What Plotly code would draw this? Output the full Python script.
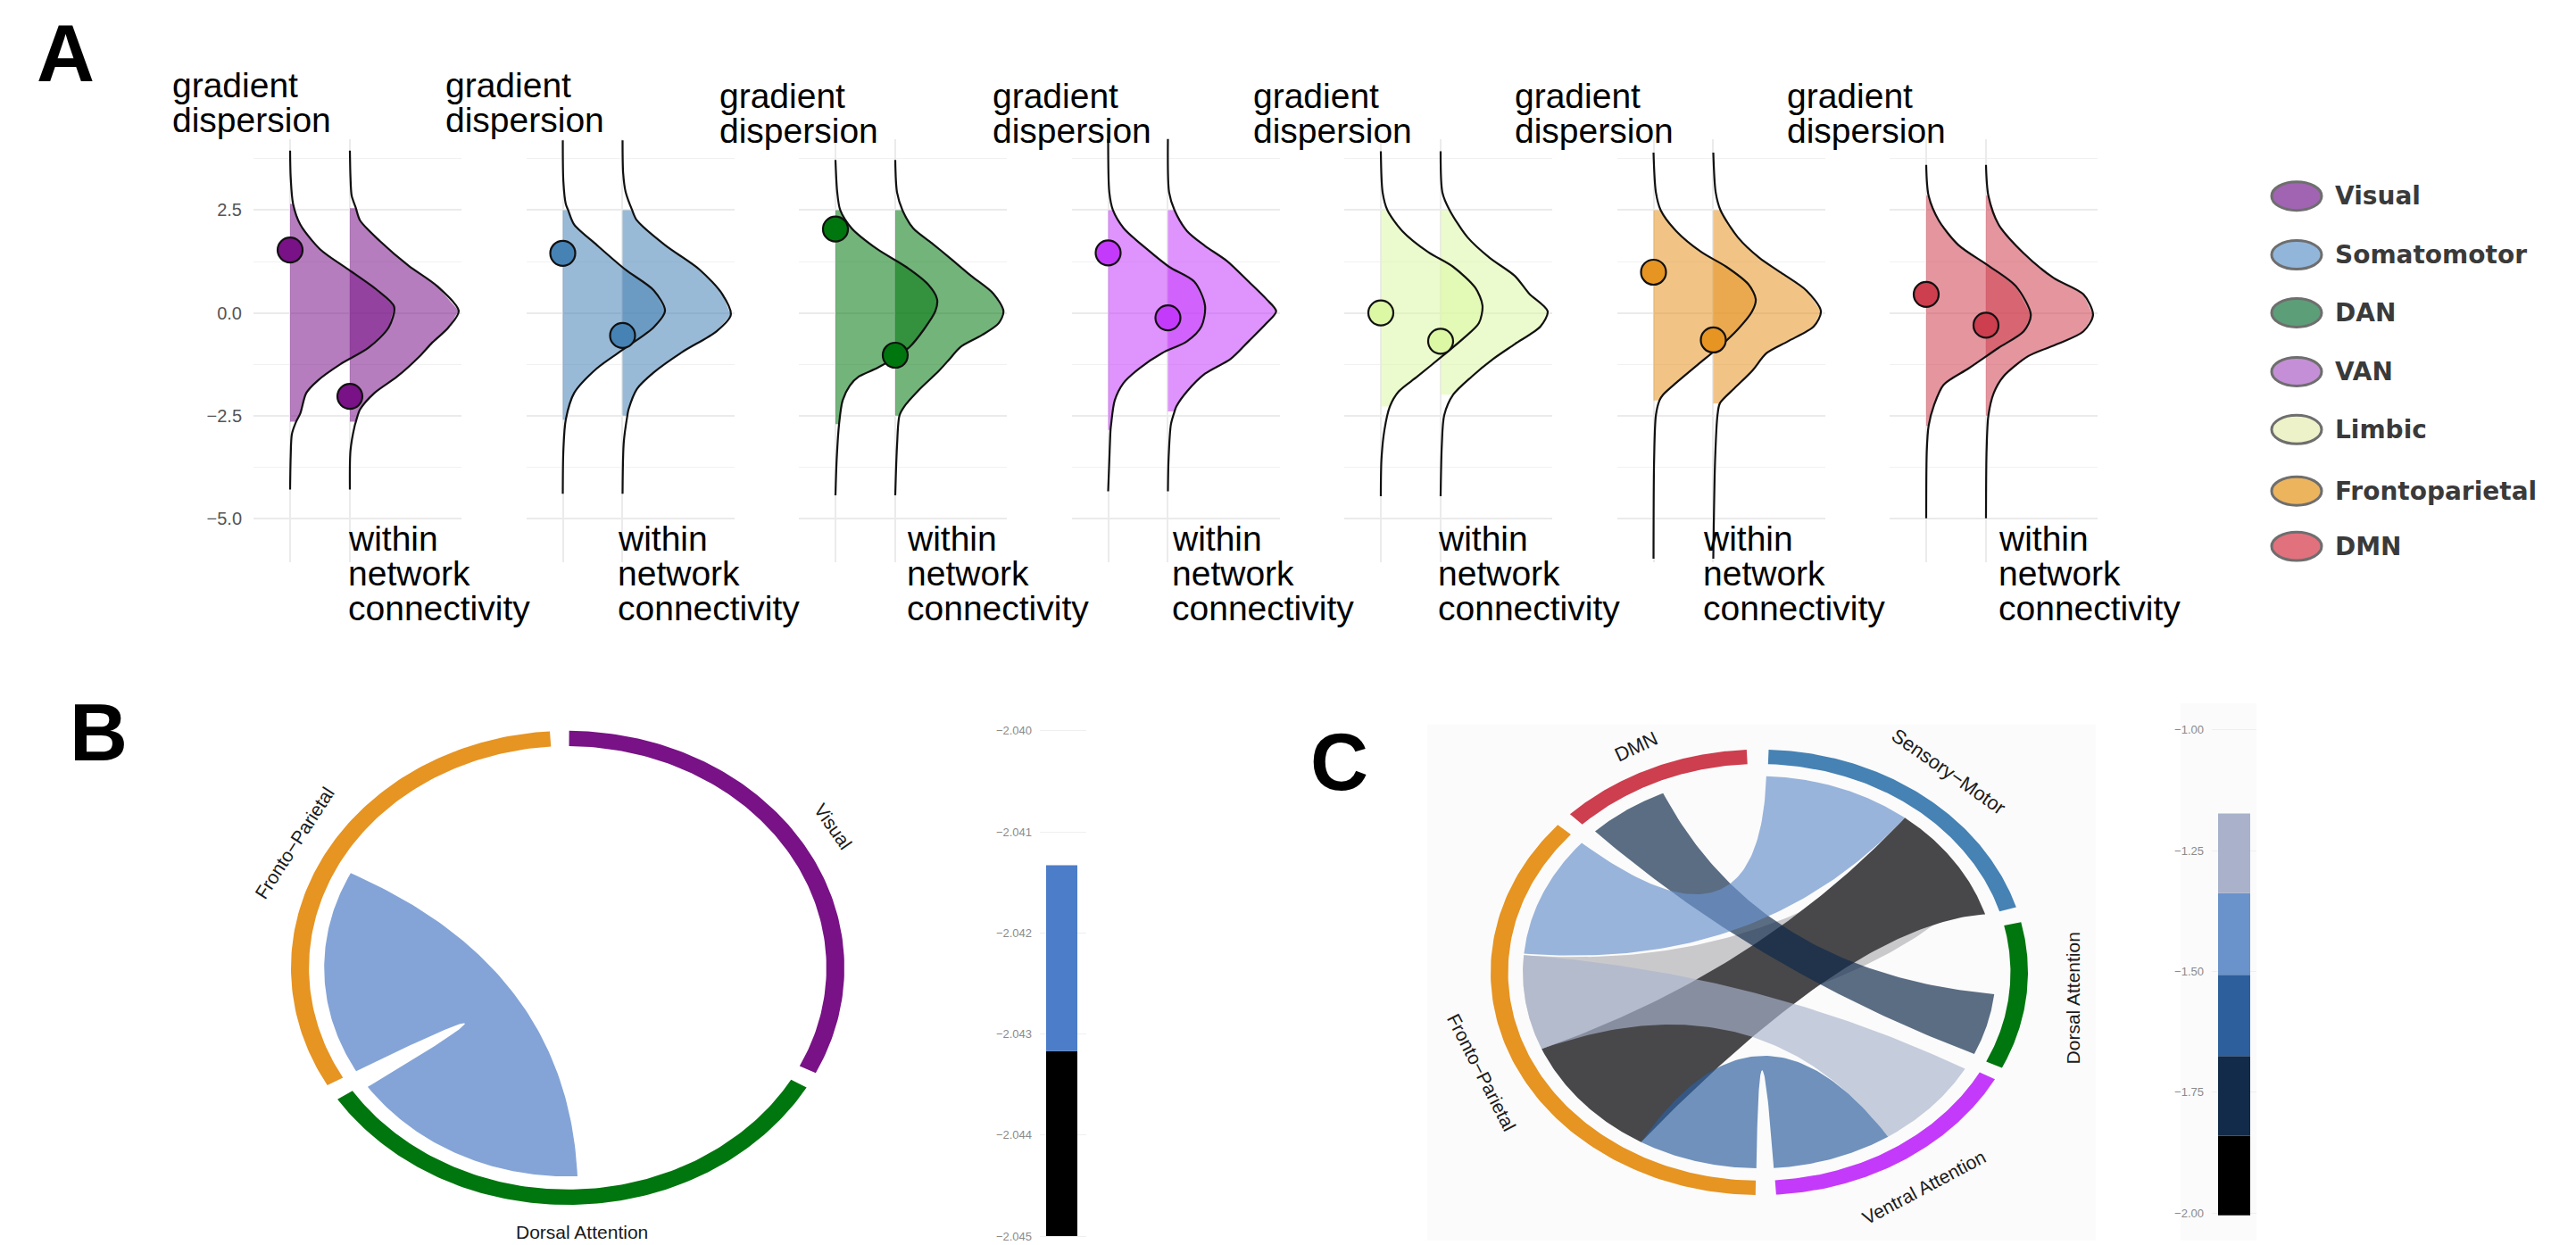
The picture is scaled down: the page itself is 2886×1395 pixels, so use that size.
import numpy as np
import plotly.graph_objects as go

W, H = 2886, 1395

# ---------------- Panel A: half-violin densities per network ----------------
networks = ["Visual", "Somatomotor", "DAN", "VAN", "Limbic", "Frontoparietal", "DMN"]
network_colors = ["#781286", "#4682B4", "#00760E", "#C43AFA", "#DCF8A4", "#E69422", "#CD3E4E"]
legend_fills = ["#A064B2", "#92B6DA", "#5C9E78", "#C48FD6", "#EEF2C8", "#EDB45E", "#E2717E"]

# gradient dispersion: density heights (y) and half-widths (w)
visual_gd_y = [3.95, 3.3, 2.65, 2.15, 1.55, 1.05, 0.55, 0.15, -0.35, -0.85, -1.25, -1.65, -1.95, -2.45, -2.65, -2.95, -3.5, -4.3]
visual_gd_w = [0, 0.01, 0.05, 0.17, 0.5, 0.98, 1.46, 1.74, 1.65, 1.31, 0.84, 0.46, 0.27, 0.17, 0.1, 0.03, 0.01, 0]
smn_gd_y = [4.2, 3.2, 2.65, 2.5, 2.15, 1.65, 1.05, 0.55, 0.05, -0.35, -0.85, -1.35, -1.95, -2.6, -3.35, -4.4]
smn_gd_w = [0, 0.01, 0.05, 0.09, 0.19, 0.57, 1.05, 1.52, 1.71, 1.52, 1.05, 0.57, 0.19, 0.05, 0.01, 0]
dan_gd_y = [3.72, 2.93, 2.5, 2.06, 1.55, 1.12, 0.69, 0.33, 0.04, -0.40, -0.83, -1.08, -1.34, -1.55, -1.77, -2.13, -2.71, -3.58, -4.44]
dan_gd_w = [0, 0.03, 0.08, 0.27, 0.70, 1.18, 1.55, 1.70, 1.67, 1.48, 1.24, 1.0, 0.70, 0.39, 0.24, 0.12, 0.06, 0.02, 0]
van_gd_y = [4.26, 2.93, 2.5, 2.06, 1.55, 1.12, 0.76, 0.18, -0.33, -0.69, -0.98, -1.34, -1.70, -2.13, -2.71, -2.85, -3.58, -4.34]
van_gd_w = [0, 0.02, 0.08, 0.26, 0.65, 1.02, 1.44, 1.62, 1.56, 1.32, 0.90, 0.53, 0.26, 0.11, 0.05, 0.04, 0.02, 0]
lim_gd_y = [3.93, 2.93, 2.5, 1.99, 1.48, 1.12, 0.61, 0.18, -0.25, -0.61, -1.05, -1.55, -1.91, -2.28, -2.85, -3.58, -4.46]
lim_gd_w = [0, 0.03, 0.11, 0.36, 0.79, 1.21, 1.58, 1.70, 1.64, 1.39, 1.03, 0.61, 0.30, 0.15, 0.06, 0.01, 0]
fpn_gd_y = [3.9, 2.93, 2.5, 1.99, 1.48, 1.12, 0.69, 0.33, 0.04, -0.40, -0.83, -1.26, -1.70, -1.99, -2.13, -2.49, -3.58, -5.98]
fpn_gd_w = [0, 0.04, 0.12, 0.38, 0.80, 1.22, 1.59, 1.71, 1.65, 1.41, 1.10, 0.74, 0.38, 0.16, 0.1, 0.04, 0.01, 0]
dmn_gd_y = [3.6, 2.85, 2.25, 1.65, 1.15, 0.65, -0.05, -0.45, -0.85, -1.35, -1.75, -2.25, -2.75, -3.35, -5.0]
dmn_gd_w = [0, 0.04, 0.21, 0.54, 1.04, 1.5, 1.75, 1.63, 1.21, 0.71, 0.29, 0.13, 0.04, 0.01, 0]

# within network connectivity
visual_wn_y = [3.95, 3.3, 2.85, 2.55, 2.25, 1.75, 1.15, 0.65, 0.05, -0.35, -0.75, -1.05, -1.55, -1.95, -2.35, -2.65, -2.75, -3.35, -4.3]
visual_wn_w = [0, 0.01, 0.03, 0.1, 0.17, 0.5, 0.98, 1.46, 1.82, 1.65, 1.36, 1.17, 0.79, 0.41, 0.17, 0.1, 0.08, 0.01, 0]
smn_wn_y = [4.2, 3.4, 2.95, 2.5, 2.25, 1.65, 1.05, 0.45, -0.05, -0.45, -0.95, -1.45, -1.85, -2.35, -2.5, -3.15, -4.4]
smn_wn_w = [0, 0.01, 0.05, 0.16, 0.24, 0.71, 1.29, 1.67, 1.81, 1.57, 1.0, 0.52, 0.24, 0.1, 0.08, 0.02, 0]
dan_wn_y = [3.72, 2.93, 2.5, 2.06, 1.70, 1.34, 0.90, 0.47, 0.04, -0.25, -0.54, -0.83, -1.12, -1.41, -1.84, -2.28, -2.5, -3.22, -4.44]
dan_wn_w = [0, 0.03, 0.12, 0.30, 0.61, 0.91, 1.27, 1.64, 1.81, 1.73, 1.45, 1.09, 0.91, 0.73, 0.42, 0.15, 0.07, 0.03, 0]
van_wn_y = [4.26, 2.93, 2.5, 1.99, 1.63, 1.26, 0.76, 0.33, 0.04, -0.25, -0.69, -1.12, -1.48, -1.91, -2.28, -2.4, -2.71, -3.58, -4.34]
van_wn_w = [0, 0.02, 0.11, 0.32, 0.62, 0.99, 1.35, 1.65, 1.81, 1.65, 1.35, 1.05, 0.62, 0.32, 0.14, 0.11, 0.05, 0.01, 0]
lim_wn_y = [3.93, 2.93, 2.5, 1.84, 1.34, 0.90, 0.47, 0.04, -0.33, -0.76, -1.12, -1.55, -1.99, -2.49, -3.22, -4.46]
lim_wn_w = [0, 0.03, 0.15, 0.45, 0.82, 1.24, 1.48, 1.79, 1.67, 1.24, 0.88, 0.52, 0.21, 0.06, 0.02, 0]
fpn_wn_y = [3.9, 2.93, 2.5, 1.84, 1.34, 0.98, 0.54, 0.04, -0.33, -0.69, -0.98, -1.41, -1.84, -2.2, -2.49, -3.58, -5.98]
fpn_wn_w = [0, 0.04, 0.12, 0.41, 0.77, 1.13, 1.56, 1.80, 1.68, 1.25, 0.89, 0.65, 0.35, 0.11, 0.07, 0.03, 0]
dmn_wn_y = [3.6, 2.85, 2.15, 1.45, 0.85, 0.45, -0.05, -0.45, -0.75, -1.05, -1.55, -1.95, -2.5, -3.35, -5.0]
dmn_wn_w = [0, 0.04, 0.21, 0.63, 1.13, 1.63, 1.79, 1.63, 1.21, 0.71, 0.29, 0.13, 0.04, 0.01, 0]

gd_profiles = [(visual_gd_y, visual_gd_w), (smn_gd_y, smn_gd_w), (dan_gd_y, dan_gd_w), (van_gd_y, van_gd_w),
               (lim_gd_y, lim_gd_w), (fpn_gd_y, fpn_gd_w), (dmn_gd_y, dmn_gd_w)]
wn_profiles = [(visual_wn_y, visual_wn_w), (smn_wn_y, smn_wn_w), (dan_wn_y, dan_wn_w), (van_wn_y, van_wn_w),
               (lim_wn_y, lim_wn_w), (fpn_wn_y, fpn_wn_w), (dmn_wn_y, dmn_wn_w)]

# shaded range (upper, lower) of each half violin
gd_fill = [(2.65, -2.65), (2.5, -2.6), (2.5, -2.71), (2.5, -2.85), (2.5, -2.28), (2.5, -2.13), (2.85, -2.75)]
wn_fill = [(2.55, -2.65), (2.5, -2.5), (2.5, -2.5), (2.5, -2.4), (2.5, -1.99), (2.5, -2.2), (2.85, -2.5)]

# individual subject value shown as a dot
point_gd = [1.53, 1.45, 2.04, 1.46, 0.0, 0.99, 0.45]
point_wn = [-2.03, -0.55, -1.03, -0.12, -0.69, -0.66, -0.30]

y_ticks = [-5.0, -2.5, 0.0, 2.5]
y_ticktext = ["\u22125.0", "\u22122.5", "0.0", "2.5"]

# ---------------- Panel B: chord diagram ----------------
b_sectors = ["Visual", "Dorsal Attention", "Fronto\u2212Parietal"]
b_sector_colors = ["#781286", "#00760E", "#E69422"]
b_sector_start = [89.7, -30.3, -150.3]
b_sector_end = [-26.3, -146.3, -266.3]
# link: (arc on first sector from, to), (arc on second sector from, to)
b_links = [((272.3, 214.8), (209.7, 153.0))]
b_link_colors = ["rgba(132,164,215,1.0)"]
b_scale_edges = [-2.045, -2.04317, -2.04133]
b_scale_colors = ["#000000", "#4C7DC8"]
b_scale_ticks = [-2.045, -2.044, -2.043, -2.042, -2.041, -2.040]

# ---------------- Panel C: chord diagram ----------------
c_sectors = ["Sensory\u2212Motor", "Dorsal Attention", "Ventral Attention", "Fronto\u2212Parietal", "DMN"]
c_sector_colors = ["#4682B4", "#00760E", "#C43AFA", "#E69422", "#CD3E4E"]
c_sector_start = [88.0, 13.0, -28.7, -90.8, -225.2]
c_sector_end = [17.0, -25.4, -86.4, -221.4, -267.3]
c_links = [
    ((45.0, 25.0), (203.0, 175.0)),     # Sensory-Motor - Fronto-Parietal
    ((52.0, 17.2), (240.0, 203.0)),     # Sensory-Motor - Fronto-Parietal
    ((203.0, 175.0), (-29.5, -57.0)),   # Fronto-Parietal - Ventral Attention
    ((269.3, 240.0), (303.0, 273.5)),   # Fronto-Parietal - Ventral Attention
    ((134.0, 114.0), (-6.4, -24.6)),    # DMN - Dorsal Attention
    ((88.3, 52.0), (174.5, 138.7)),     # Sensory-Motor - Fronto-Parietal
]
c_link_colors = ["rgba(201,201,204,1.0)", "rgba(72,72,75,1.0)", "rgba(169,179,204,0.66)",
                 "rgba(44,95,158,0.68)", "rgba(15,42,74,0.68)", "rgba(106,146,203,0.68)"]
c_scale_edges = [-2.005, -1.84, -1.675, -1.507, -1.338, -1.173]
c_scale_colors = ["#000000", "#132B4A", "#2D5F9C", "#6A92CB", "#A9B2CA"]
c_scale_ticks = [-2.0, -1.75, -1.5, -1.25, -1.0]

FONT = "Liberation Sans"


def px2x(px):
    return px / W


def px2y(py):
    return 1 - py / H


def xdom(a, b):
    return [max(0.0, a / W), min(1.0, b / W)]


def ydom(top, bottom):
    return [max(0.0, 1 - bottom / H), min(1.0, 1 - top / H)]


fig = go.Figure()
layout = {}
annotations = []
shapes = []

# ---- Panel A facets ----
FACET_LEFT, FACET_W, FACET_STEP = 284.0, 233.0, 305.5
ALPHA = 0.55


def hex_rgba(h, a):
    h = h.lstrip("#")
    return f"rgba({int(h[0:2], 16)},{int(h[2:4], 16)},{int(h[4:6], 16)},{a})"


for i in range(7):
    n = i + 1
    xs = "x" if n == 1 else f"x{n}"
    ys = "y" if n == 1 else f"y{n}"
    x0 = FACET_LEFT + i * FACET_STEP
    layout["xaxis" if n == 1 else f"xaxis{n}"] = dict(
        domain=xdom(x0, x0 + FACET_W), range=[0.388, 3.866], tickvals=[1, 2],
        showticklabels=False, showgrid=True, gridcolor="#EBEBEB", gridwidth=1.5,
        zeroline=False, showline=False, anchor=ys, fixedrange=True)
    layout["yaxis" if n == 1 else f"yaxis{n}"] = dict(
        domain=ydom(156, 631), range=[-6.07, 4.23], tickvals=y_ticks, ticktext=y_ticktext,
        showticklabels=(i == 0), showgrid=True, gridcolor="#EBEBEB", gridwidth=1.5,
        minor=dict(tickvals=[-3.75, -1.25, 1.25, 3.75], showgrid=True, gridcolor="#F1F1F1", gridwidth=1.2),
        zeroline=False, showline=False, anchor=xs, fixedrange=True,
        tickfont=dict(family=FONT, size=20, color="#555555"), ticklabelstandoff=12)

    col = network_colors[i]
    for side, (prof, frange) in enumerate([(gd_profiles[i], gd_fill[i]), (wn_profiles[i], wn_fill[i])]):
        base = side + 1
        yv, wv = prof
        hi, lo = frange
        sel = [(y, w) for y, w in zip(yv, wv) if lo - 1e-9 <= y <= hi + 1e-9]
        fx = [base] + [base + w for _, w in sel] + [base, base]
        fy = [hi] + [y for y, _ in sel] + [lo, hi]
        fig.add_trace(go.Scatter(x=fx, y=fy, xaxis=xs, yaxis=ys, mode="lines", fill="toself",
                                 fillcolor=hex_rgba(col, ALPHA), line=dict(width=0),
                                 hoverinfo="skip", showlegend=False))
    for side, prof in enumerate([gd_profiles[i], wn_profiles[i]]):
        base = side + 1
        yv, wv = prof
        fig.add_trace(go.Scatter(x=[base + w for w in wv], y=yv, xaxis=xs, yaxis=ys, mode="lines",
                                 line=dict(color="#111111", width=2.2, shape="spline", smoothing=0.8),
                                 hoverinfo="skip", showlegend=False))
    fig.add_trace(go.Scatter(x=[1, 2], y=[point_gd[i], point_wn[i]], xaxis=xs, yaxis=ys, mode="markers",
                             marker=dict(size=28, color=col, line=dict(color="#111111", width=2.2)),
                             hoverinfo="skip", showlegend=False))

# facet text labels
gd_label_x = [191, 497, 804, 1110, 1402, 1695, 2000]
gd_label_y = [96, 96, 108, 108, 108, 108, 108]
wn_label_x = [388, 690, 1014, 1311, 1609, 1906, 2237]
for i in range(7):
    for k, word in enumerate(["gradient", "dispersion"]):
        annotations.append(dict(x=px2x(gd_label_x[i]), y=px2y(gd_label_y[i] + 39 * k), xref="paper", yref="paper",
                                text=word, showarrow=False, xanchor="left", yanchor="middle",
                                font=dict(family=FONT, size=39, color="#000000")))
    for k, word in enumerate(["within", "network", "connectivity"]):
        annotations.append(dict(x=px2x(wn_label_x[i]), y=px2y(604 + 39 * k), xref="paper", yref="paper",
                                text=word, showarrow=False, xanchor="left", yanchor="middle",
                                font=dict(family=FONT, size=39, color="#000000")))

# legend of panel A
legend_y = [220, 286, 351, 417, 482, 551, 613]
for i, name in enumerate(networks):
    cx, cy = 2573, legend_y[i]
    shapes.append(dict(type="circle", xref="paper", yref="paper",
                       x0=px2x(cx - 28), x1=px2x(cx + 28), y0=px2y(cy + 16), y1=px2y(cy - 16),
                       fillcolor=legend_fills[i], line=dict(color="#6E6E6E", width=3)))
    annotations.append(dict(x=px2x(2614), y=px2y(cy), xref="paper", yref="paper", text=name,
                            showarrow=False, xanchor="left", yanchor="middle",
                            font=dict(family="DejaVu Sans", size=28, color="#3A3A3A", weight="bold")))

# panel letters
for letter, cx, cy in [("A", 73, 60), ("B", 110, 822), ("C", 1500, 855)]:
    annotations.append(dict(x=px2x(cx), y=px2y(cy), xref="paper", yref="paper", text=f"<b>{letter}</b>",
                            showarrow=False, xanchor="center", yanchor="middle",
                            font=dict(family=FONT, size=90, color="#000000")))


# ---- chord helpers (unit circle; axes stretch it to the drawn ellipse) ----
def ring(a0, a1, r_in=0.935, r_out=1.0):
    t = np.radians(np.linspace(a0, a1, 120))
    x = np.concatenate([r_out * np.cos(t), r_in * np.cos(t[::-1])])
    y = np.concatenate([r_out * np.sin(t), r_in * np.sin(t[::-1])])
    return np.append(x, x[0]), np.append(y, y[0])


def bezier(p0, p2, c=(0.0, 0.0), n=80):
    t = np.linspace(0, 1, n)[:, None]
    pts = (1 - t) ** 2 * np.array(p0) + 2 * t * (1 - t) * np.array(c) + t ** 2 * np.array(p2)
    return pts[:, 0], pts[:, 1]


def pol(a, r):
    return (r * np.cos(np.radians(a)), r * np.sin(np.radians(a)))


def link(arc_a, arc_b, r=0.88, c1=(0.0, 0.0), c2=(0.0, 0.0)):
    (a0, a1), (b0, b1) = arc_a, arc_b
    ta = np.radians(np.linspace(a0, a1, 80))
    tb = np.radians(np.linspace(b0, b1, 80))
    x1, y1 = bezier(pol(a1, r), pol(b0, r), c1)
    x2, y2 = bezier(pol(b1, r), pol(a0, r), c2)
    x = np.concatenate([r * np.cos(ta), x1, r * np.cos(tb), x2])
    y = np.concatenate([r * np.sin(ta), y1, r * np.sin(tb), y2])
    return x, y


def add_chord(axn, starts, ends, colors, links, link_colors, controls=None):
    xs, ys = f"x{axn}", f"y{axn}"
    controls = controls or {}
    for k, (lk, lc) in enumerate(zip(links, link_colors)):
        x, y = link(*lk, **controls.get(k, {}))
        fig.add_trace(go.Scatter(x=x, y=y, xaxis=xs, yaxis=ys, mode="lines", fill="toself",
                                 fillcolor=lc, line=dict(width=0), hoverinfo="skip", showlegend=False))
    for a0, a1, c in zip(starts, ends, colors):
        x, y = ring(a0, a1)
        fig.add_trace(go.Scatter(x=x, y=y, xaxis=xs, yaxis=ys, mode="lines", fill="toself",
                                 fillcolor=c, line=dict(width=0), hoverinfo="skip", showlegend=False))


def hidden_axes(n, xd, yd, xr, yr):
    layout[f"xaxis{n}"] = dict(domain=xd, range=xr, visible=False, anchor=f"y{n}", fixedrange=True)
    layout[f"yaxis{n}"] = dict(domain=yd, range=yr, visible=False, anchor=f"x{n}", fixedrange=True)


# panel B chord (ellipse centre 636,1086; radii 310 x 266 px)
hidden_axes(9, xdom(636 - 1.2 * 310, 636 + 1.2 * 310), ydom(1086 - 1.12 * 266, 1086 + 1.12 * 266),
            [-1.2, 1.2], [-1.12, 1.12])
add_chord(9, b_sector_start, b_sector_end, b_sector_colors, b_links, b_link_colors)

# panel C background and chord (ellipse centre 1971,1091; radii 301 x 250 px)
shapes.append(dict(type="rect", xref="paper", yref="paper", x0=px2x(1599), x1=px2x(2348),
                   y0=px2y(1392), y1=px2y(813), fillcolor="#FBFBFB", line=dict(width=0), layer="below"))
shapes.append(dict(type="rect", xref="paper", yref="paper", x0=px2x(2443), x1=px2x(2528),
                   y0=px2y(1392), y1=px2y(789), fillcolor="#FBFBFB", line=dict(width=0), layer="below"))
hidden_axes(10, xdom(1971 - 1.2 * 301, 1971 + 1.2 * 301), ydom(1091 - 1.2 * 250, 1091 + 1.2 * 250),
            [-1.2, 1.2], [-1.2, 1.2])
# bezier control points of the lower edges of the two Sensory-Motor ribbons
c_controls = {0: dict(c1=(0.4, -0.15)), 1: dict(c1=(0.35, 0.22))}
add_chord(10, c_sector_start, c_sector_end, c_sector_colors, c_links, c_link_colors, c_controls)

# chord sector labels
chord_labels = [
    ("Visual", 933, 927, 55, 21), ("Fronto\u2212Parietal", 330, 946, -57, 21), ("Dorsal Attention", 652, 1382, 0, 21),
    ("DMN", 1833, 838, -25, 22), ("Sensory\u2212Motor", 2183, 866, 35, 22), ("Dorsal Attention", 2322, 1120, -90, 21),
    ("Ventral Attention", 2155, 1332, -28, 21), ("Fronto\u2212Parietal", 1660, 1203, 63, 21),
]
for txt, cx, cy, ang, fs in chord_labels:
    annotations.append(dict(x=px2x(cx), y=px2y(cy), xref="paper", yref="paper", text=txt, textangle=ang,
                            showarrow=False, xanchor="center", yanchor="middle",
                            font=dict(family=FONT, size=fs, color="#1A1A1A")))


# ---- value scales drawn as stacked bars ----
def add_scale(n, edges, colors, ticks, fmt, x_px, bar_px, tick_px, yr):
    xs, ys = f"x{n}", f"y{n}"
    span = bar_px[1] - bar_px[0]
    # pixel extent of the value range, from the two outer tick positions
    t_lo, t_hi = min(ticks), max(ticks)
    ppu = (tick_px[1] - tick_px[0]) / (t_hi - t_lo)
    top = tick_px[0] - (yr[1] - t_hi) * ppu
    bottom = tick_px[1] + (t_lo - yr[0]) * ppu
    layout[f"xaxis{n}"] = dict(domain=xdom(*x_px), range=[(x_px[0] - bar_px[0]) / span, (x_px[1] - bar_px[0]) / span],
                               tickvals=[0.5], showgrid=False, showticklabels=False, zeroline=False,
                               anchor=ys, fixedrange=True)
    layout[f"yaxis{n}"] = dict(domain=ydom(top, bottom), range=yr, tickvals=ticks,
                               ticktext=[fmt(t).replace("-", "\u2212") for t in ticks],
                               showgrid=True, gridcolor="#EFEFEF", gridwidth=1, zeroline=False,
                               tickfont=dict(family=FONT, size=13, color="#8A8A8A"), ticklabelstandoff=8,
                               ticklabeloverflow="allow", anchor=xs, fixedrange=True)
    fig.add_trace(go.Bar(x=[0.5] * len(colors), y=[edges[k + 1] - edges[k] for k in range(len(colors))],
                         base=edges[:-1], width=1, marker=dict(color=colors, line=dict(width=0)),
                         xaxis=xs, yaxis=ys, hoverinfo="skip", showlegend=False))


add_scale(11, b_scale_edges, b_scale_colors, b_scale_ticks, lambda t: f"{t:.3f}",
          (1165, 1217), (1172, 1207), (820, 1387), [-2.04505, -2.0398])
add_scale(12, c_scale_edges, c_scale_colors, c_scale_ticks, lambda t: f"{t:.2f}",
          (2478, 2528), (2485, 2521), (819, 1361), [-2.04, -0.96])

fig.update_layout(**layout)
fig.update_layout(width=W, height=H, margin=dict(l=0, r=0, t=0, b=0), paper_bgcolor="white",
                  plot_bgcolor="rgba(0,0,0,0)", annotations=annotations, shapes=shapes,
                  barmode="overlay", showlegend=False)
fig.write_html("out.html")
